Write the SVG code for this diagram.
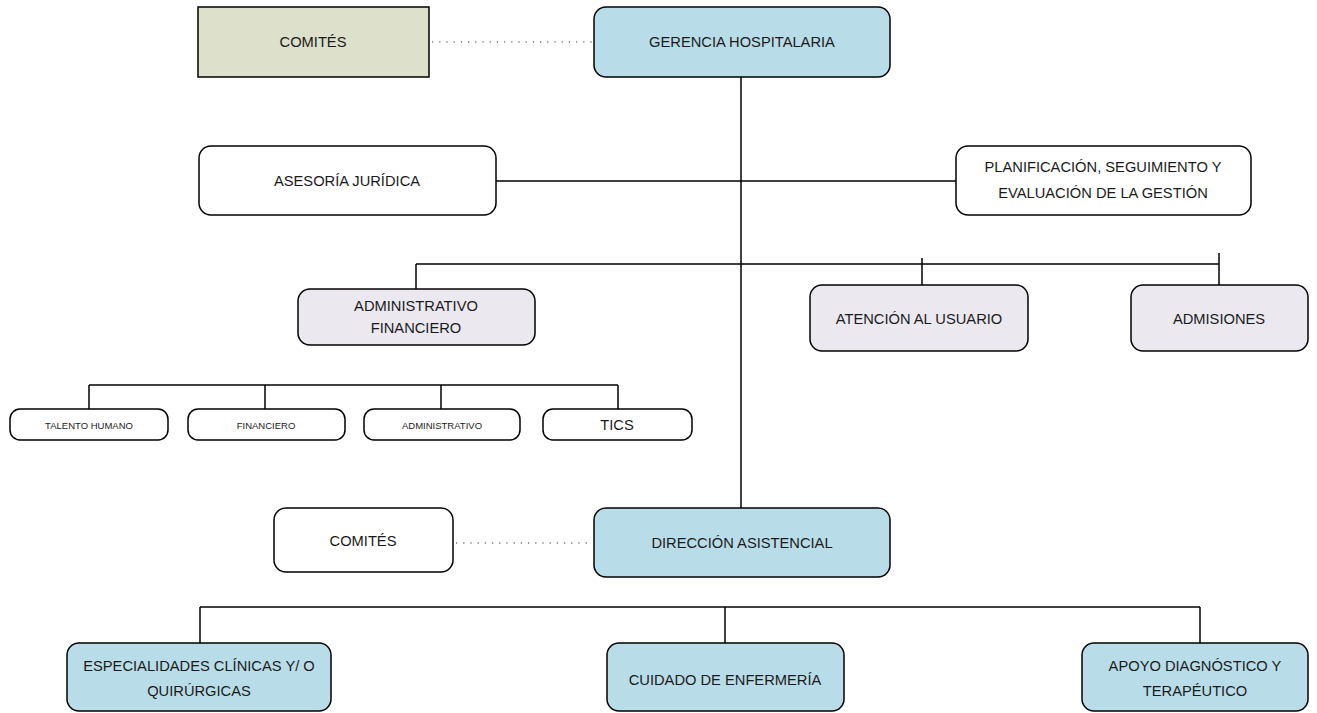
<svg xmlns="http://www.w3.org/2000/svg" width="1317" height="713" viewBox="0 0 1317 713">
<style>
.box{stroke:#000;stroke-width:1.5}
.w{fill:#fff}
.b{fill:#b9dde8}
.l{fill:#ebe8f0}
.o{fill:#dde0cb}
.t{font-family:"Liberation Sans",Arial,sans-serif;font-size:14.7px;fill:#1a1a1a;text-anchor:middle;dominant-baseline:central}
.s{font-size:9.5px}
.ln{stroke:#000;stroke-width:1.5;fill:none}
.dot{stroke:#333;stroke-width:1.2;stroke-dasharray:1.2 6;fill:none}
</style>
<rect width="1317" height="713" fill="#fff"/>
<g id="connectors">
<line class="dot" x1="432" y1="42" x2="592" y2="42"/>
<line class="dot" x1="456" y1="543" x2="592" y2="543"/>
<line class="ln" x1="741" y1="77" x2="741" y2="508"/>
<line class="ln" x1="496" y1="181" x2="956" y2="181"/>
<line class="ln" x1="416" y1="264" x2="1219" y2="264"/>
<line class="ln" x1="416" y1="264" x2="416" y2="289"/>
<line class="ln" x1="922" y1="258" x2="922" y2="285"/>
<line class="ln" x1="1219" y1="253" x2="1219" y2="285"/>
<line class="ln" x1="89" y1="385" x2="618" y2="385"/>
<line class="ln" x1="89" y1="385" x2="89" y2="409"/>
<line class="ln" x1="265" y1="385" x2="265" y2="409"/>
<line class="ln" x1="441" y1="385" x2="441" y2="409"/>
<line class="ln" x1="618" y1="385" x2="618" y2="409"/>
<line class="ln" x1="200" y1="607" x2="1200" y2="607"/>
<line class="ln" x1="200" y1="607" x2="200" y2="643"/>
<line class="ln" x1="725" y1="607" x2="725" y2="643"/>
<line class="ln" x1="1200" y1="607" x2="1200" y2="643"/>
</g>
<g id="comites-top"><rect class="box o" x="198" y="7" width="231" height="70"/><text class="t" x="313" y="42">COMITÉS</text></g>
<g id="gerencia"><rect class="box b" x="594" y="7" width="296" height="70" rx="12"/><text class="t" x="742" y="42">GERENCIA HOSPITALARIA</text></g>
<g id="asesoria"><rect class="box w" x="199" y="146" width="297" height="69" rx="12"/><text class="t" x="347" y="181">ASESORÍA JURÍDICA</text></g>
<g id="planificacion"><rect class="box w" x="956" y="146" width="295" height="69" rx="12"/><text class="t" x="1103" y="167">PLANIFICACIÓN, SEGUIMIENTO Y</text><text class="t" x="1103" y="193">EVALUACIÓN DE LA GESTIÓN</text></g>
<g id="adm-financiero"><rect class="box l" x="298" y="289" width="237" height="56" rx="12"/><text class="t" x="416" y="306">ADMINISTRATIVO</text><text class="t" x="416" y="328">FINANCIERO</text></g>
<g id="atencion"><rect class="box l" x="810" y="285" width="218" height="66" rx="12"/><text class="t" x="919" y="319">ATENCIÓN AL USUARIO</text></g>
<g id="admisiones"><rect class="box l" x="1131" y="285" width="177" height="66" rx="12"/><text class="t" x="1219" y="319">ADMISIONES</text></g>
<g id="talento"><rect class="box w" x="10" y="409" width="158" height="31" rx="10"/><text class="t s" x="89" y="425">TALENTO HUMANO</text></g>
<g id="financiero"><rect class="box w" x="188" y="409" width="157" height="31" rx="10"/><text class="t s" x="266" y="425">FINANCIERO</text></g>
<g id="administrativo"><rect class="box w" x="364" y="409" width="156" height="31" rx="10"/><text class="t s" x="442" y="425">ADMINISTRATIVO</text></g>
<g id="tics"><rect class="box w" x="543" y="409" width="149" height="31" rx="10"/><text class="t" x="617" y="425">TICS</text></g>
<g id="comites-bottom"><rect class="box w" x="274" y="508" width="179" height="64" rx="12"/><text class="t" x="363" y="541">COMITÉS</text></g>
<g id="direccion"><rect class="box b" x="594" y="508" width="296" height="69" rx="12"/><text class="t" x="742" y="543">DIRECCIÓN ASISTENCIAL</text></g>
<g id="especialidades"><rect class="box b" x="67" y="643" width="264" height="68" rx="12"/><text class="t" x="199" y="666">ESPECIALIDADES CLÍNICAS Y/ O</text><text class="t" x="199" y="691">QUIRÚRGICAS</text></g>
<g id="cuidado"><rect class="box b" x="607" y="643" width="237" height="68" rx="12"/><text class="t" x="725" y="680">CUIDADO DE ENFERMERÍA</text></g>
<g id="apoyo"><rect class="box b" x="1082" y="643" width="226" height="68" rx="12"/><text class="t" x="1195" y="666">APOYO DIAGNÓSTICO Y</text><text class="t" x="1195" y="691">TERAPÉUTICO</text></g>
</svg>
